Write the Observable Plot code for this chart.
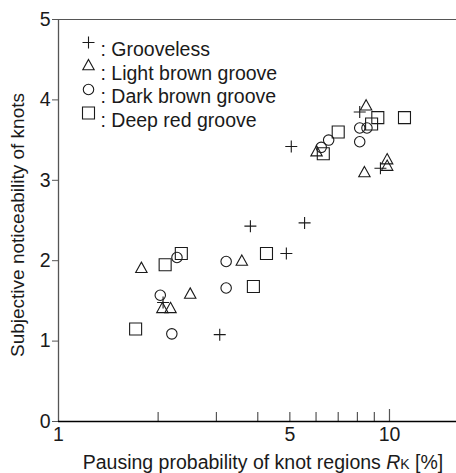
<!DOCTYPE html>
<html><head><meta charset="utf-8">
<script src="https://cdn.jsdelivr.net/npm/d3@7"></script>
<script src="https://cdn.jsdelivr.net/npm/@observablehq/plot@0.6"></script>
<style>
html,body{margin:0;padding:0;background:#fff;}
#chart svg{font-family:"Liberation Sans",Arial,sans-serif;display:block;}
</style>
</head><body><div id="chart"></div>
<script>
// ---- data ----
const seriesNames = ["Grooveless", "Light brown groove", "Dark brown groove", "Deep red groove"];
const groovelessX = [8.13, 5.05, 9.39, 3.80, 5.54, 4.88, 3.07, 2.07];
const groovelessY = [3.85, 3.42, 3.15, 2.43, 2.47, 2.09, 1.08, 1.48];
const lightBrownX = [8.5, 6.02, 8.40, 9.84, 9.84, 1.78, 2.06, 2.18, 2.50, 3.58];
const lightBrownY = [3.92, 3.35, 3.09, 3.25, 3.17, 1.90, 1.40, 1.40, 1.58, 1.99];
const darkBrownX = [6.22, 6.55, 8.13, 8.13, 8.55, 2.28, 2.03, 2.20, 3.21, 3.21];
const darkBrownY = [3.41, 3.50, 3.65, 3.48, 3.65, 2.04, 1.57, 1.09, 1.99, 1.66];
const deepRedX = [7.0, 6.31, 8.83, 9.22, 11.1, 2.35, 2.10, 1.71, 4.25, 3.88];
const deepRedY = [3.60, 3.33, 3.70, 3.78, 3.78, 2.09, 1.95, 1.15, 2.09, 1.68];
const xTickLabels = [1, 5, 10];
const xMinorTicks = [2, 3, 4, 5, 6, 7, 8, 9];
const xMajorTicks = [10];
const yTicks = [0, 1, 2, 3, 4, 5];

// ---- symbols (geometry from r) ----
const symPlus = {draw(c, size){const r=Math.sqrt(size/Math.PI); c.moveTo(-r,0); c.lineTo(r,0); c.moveTo(0,-r); c.lineTo(0,r);}};
const symTri = {draw(c, size){const r=Math.sqrt(size/Math.PI); c.moveTo(0,-r*1.1); c.lineTo(r*0.95,r*0.62); c.lineTo(-r*0.95,r*0.62); c.closePath();}};
const symCirc = {draw(c, size){const r=Math.sqrt(size/Math.PI)*0.87; c.moveTo(r,0); c.arc(0,0,r,0,2*Math.PI);}};
const symSq = {draw(c, size){const r=Math.sqrt(size/Math.PI); c.moveTo(-r,-r); c.lineTo(r,-r); c.lineTo(r,r); c.lineTo(-r,r); c.closePath();}};

const series = [
  {name: seriesNames[0], xs: groovelessX, ys: groovelessY, symbol: symPlus},
  {name: seriesNames[1], xs: lightBrownX, ys: lightBrownY, symbol: symTri},
  {name: seriesNames[2], xs: darkBrownX, ys: darkBrownY, symbol: symCirc},
  {name: seriesNames[3], xs: deepRedX, ys: deepRedY, symbol: symSq}
];

const ink = "#1a1a1a";
const font = "Liberation Sans, Arial, sans-serif";
const marks = [];
series.forEach((s, i) => {
  const rows = s.xs.map((x, j) => ({x, y: s.ys[j]}));
  marks.push(Plot.dot(rows, {x: "x", y: "y", symbol: s.symbol, r: 6, stroke: ink, strokeWidth: 1.1, fill: "none"}));
  // legend entry
  marks.push(Plot.dot([s.name], {frameAnchor: "top-left", dx: 30, dy: 23 + i * 23.5, symbol: s.symbol, r: 6, stroke: ink, strokeWidth: 1.1, fill: "none"}));
  marks.push(Plot.text([s.name], {frameAnchor: "top-left", dx: 42, dy: 23 + i * 23.5, text: d => ": " + d, textAnchor: "start", fontSize: 19.5, fill: ink}));
});

const chart = Plot.plot({
  width: 456, height: 473,
  marginLeft: 58, marginRight: 0, marginTop: 19, marginBottom: 52,
  style: {fontFamily: font, fontSize: "19px", color: ink, background: "#fff"},
  x: {type: "log", domain: [1, 15.94], axis: null},
  y: {domain: [0, 5], axis: null},
  marks: [
    Plot.ruleY([5], {stroke: "#555", strokeWidth: 1}),
    Plot.ruleX([1], {stroke: "#555", strokeWidth: 1.3}),
    Plot.axisX(xMinorTicks, {tickSize: -9, tickFormat: () => "", stroke: "#555", strokeWidth: 1.2, label: null}),
    Plot.axisX(xMajorTicks, {tickSize: -12, tickFormat: () => "", stroke: "#555", strokeWidth: 1.2, label: null}),
    Plot.text(xTickLabels, {x: d => d, frameAnchor: "bottom", dy: 19, text: d => String(d), fontSize: 19.5, fill: ink}),
    Plot.axisY(yTicks, {tickSize: 6, tickPadding: 2, tickFormat: d => String(d), fontSize: 19.5, stroke: "#555", label: null}),
    Plot.ruleY([0], {stroke: "#000", strokeWidth: 1.5}),
    ...marks
  ]
});

const svg = d3.select(chart);
// axis titles
const xl = svg.append("text").attr("x", 263).attr("y", 469).attr("text-anchor", "middle")
  .attr("font-size", 19.5).attr("fill", ink);
xl.append("tspan").text("Pausing probability of knot regions ");
xl.append("tspan").attr("font-style", "italic").text("R");
xl.append("tspan").attr("font-size", 14).text("K");
xl.append("tspan").text(" [%]");
svg.append("text").attr("transform", "translate(24,225) rotate(-90)").attr("text-anchor", "middle")
  .attr("font-size", 19).attr("fill", ink).text("Subjective noticeability of knots");

document.getElementById("chart").appendChild(chart);
</script>
</body></html>
